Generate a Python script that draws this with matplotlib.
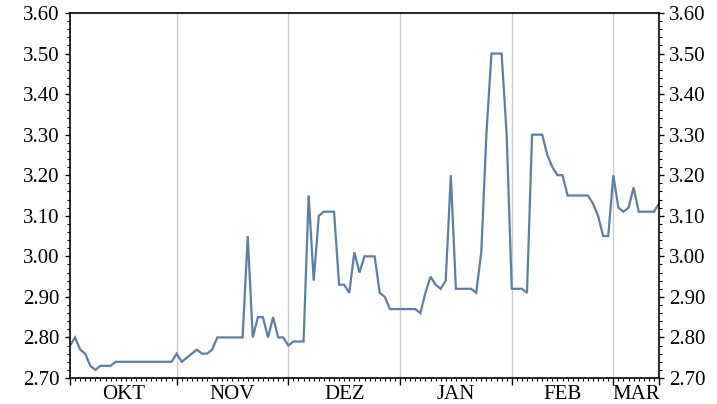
import numpy as np
import matplotlib.pyplot as plt
from matplotlib.ticker import MultipleLocator, FormatStrFormatter

# one value per trading day, Oct .. mid March
values = [2.78, 2.80, 2.77, 2.76, 2.73, 2.72, 2.73, 2.73, 2.73, 2.74,
          2.74, 2.74, 2.74, 2.74, 2.74, 2.74, 2.74, 2.74, 2.74, 2.74,
          2.74, 2.76, 2.74, 2.75, 2.76, 2.77, 2.76, 2.76, 2.77, 2.80,
          2.80, 2.80, 2.80, 2.80, 2.80, 3.05, 2.80, 2.85, 2.85, 2.80,
          2.85, 2.80, 2.80, 2.78, 2.79, 2.79, 2.79, 3.15, 2.94, 3.10,
          3.11, 3.11, 3.11, 2.93, 2.93, 2.91, 3.01, 2.96, 3.00, 3.00,
          3.00, 2.91, 2.90, 2.87, 2.87, 2.87, 2.87, 2.87, 2.87, 2.86,
          2.91, 2.95, 2.93, 2.92, 2.94, 3.20, 2.92, 2.92, 2.92, 2.92,
          2.91, 3.01, 3.30, 3.50, 3.50, 3.50, 3.30, 2.92, 2.92, 2.92,
          2.91, 3.30, 3.30, 3.30, 3.25, 3.22, 3.20, 3.20, 3.15, 3.15,
          3.15, 3.15, 3.15, 3.13, 3.10, 3.05, 3.05, 3.20, 3.12, 3.11,
          3.12, 3.17, 3.11, 3.11, 3.11, 3.11, 3.13]

months = ["OKT", "NOV", "DEZ", "JAN", "FEB", "MAR"]
month_starts = [0, 21, 43, 65, 87, 107]  # index of first trading day

plt.rcParams['font.family'] = ['Liberation Serif', 'DejaVu Serif']

x = np.arange(len(values))
last = len(values) - 1

fig = plt.figure(figsize=(7.17, 4.04), dpi=100)
ax = fig.add_axes([70/717, 26/404, 589/717, 365/404])

ax.plot(x, values, color='#5b7fa8', lw=1.6, solid_joinstyle='miter')

ax.set_xlim(0, last)
ax.set_ylim(2.70, 3.60)

# month grid + ticks
bounds = month_starts[1:]
for b in bounds:
    ax.axvline(b, color='#cccccc', lw=1.0, zorder=0)
ax.set_xticks([0] + bounds + [last])
ax.set_xticklabels([])
ax.xaxis.set_minor_locator(MultipleLocator(1))
ax.tick_params(axis='x', which='major', direction='out', length=5, width=1.0)
ax.tick_params(axis='x', which='minor', direction='out', length=2.5, width=0.8)

edges = month_starts + [last]
for i, m in enumerate(months):
    mid = (edges[i] + edges[i + 1]) / 2
    ax.annotate(m, xy=(mid, 0), xycoords=('data', 'axes fraction'),
                xytext=(0, -5), textcoords='offset points',
                ha='center', va='top', fontsize=15)

ax.yaxis.set_major_locator(MultipleLocator(0.1))
ax.yaxis.set_minor_locator(MultipleLocator(0.02))
ax.yaxis.set_major_formatter(FormatStrFormatter('%.2f'))
ax.tick_params(axis='y', which='both', left=True, right=True,
               labelleft=True, labelright=True, direction='out', labelsize=15)
ax.tick_params(axis='y', which='major', length=3.5, width=1.0, pad=4)
ax.tick_params(axis='y', which='minor', length=2.5, width=0.8)

for s in ax.spines.values():
    s.set_linewidth(1.2)

fig.savefig('out.png', dpi=100)
